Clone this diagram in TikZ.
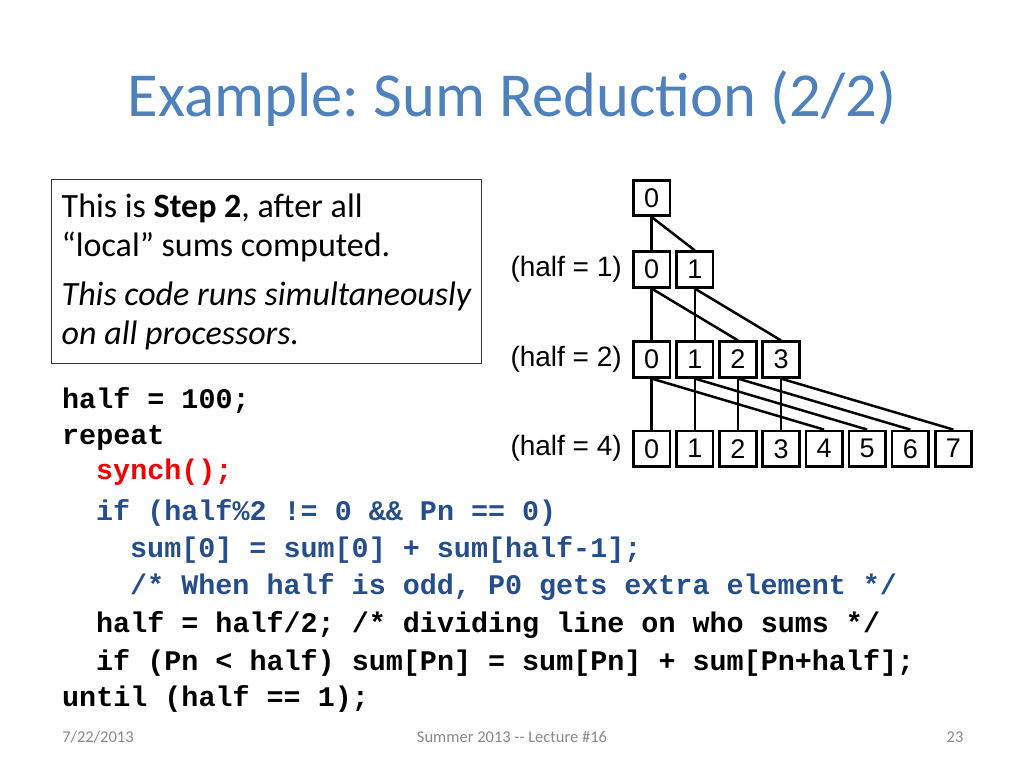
\documentclass[tikz,border=0pt]{standalone}
\usepackage{fontspec}
\setmainfont{Carlito}
\newfontfamily\helv{Liberation Sans}
\newfontfamily\cour{Liberation Mono}
\definecolor{titleblue}{RGB}{79,129,189}
\definecolor{codeblue}{RGB}{38,78,138}
\definecolor{codered}{RGB}{240,0,0}
\definecolor{footgray}{RGB}{137,137,137}
\tikzset{
  cell/.style={draw, line width=2.7pt, minimum width=36.5pt, minimum height=35.5pt, inner sep=0pt, font=\helv\fontsize{27}{30}\selectfont},
  lvl/.style={anchor=east, inner sep=0pt, font=\helv\fontsize{28}{32}\selectfont},
  link/.style={line width=2.5pt},
  codeline/.style={anchor=base west, inner sep=0pt, font=\cour\bfseries\fontsize{28.4}{32}\selectfont},
  boxtext/.style={anchor=base west, inner sep=0pt, font=\fontsize{34}{40}\selectfont},
  foot/.style={anchor=base, inner sep=0pt, text=footgray, font=\fontsize{16.5}{19}\selectfont}
}
\begin{document}
\frenchspacing
\begin{tikzpicture}[x=1pt,y=-1pt]
\useasboundingbox[fill=white] (0,0) rectangle (1024,768);
% title
\node[anchor=base, inner sep=0pt, text=titleblue, font=\fontsize{62.6}{70}\selectfont] (title) at (512,116) {Example: Sum Reduction (2/2)};
% text box
\node[draw=black!80, line width=0.9pt, minimum width=430pt, minimum height=184pt, inner sep=0pt] (tbox) at (266.7,271.3) {};
\node[boxtext] (t1) at (61.5,217) {This is \textbf{Step 2}, after all};
\node[boxtext] (t2) at (61.5,256) {“local” sums computed.};
\node[boxtext] (t3) at (61.5,305) {\itshape This code runs simultaneously};
\node[boxtext] (t4) at (61.5,344) {\itshape on all processors.};
% tree
\node[cell] (a0) at (651.7,198) {0};
\foreach \i in {0,1} { \node[cell] (b\i) at ({651.7+43.1*\i},269.5) {\i}; }
\foreach \i in {0,...,3} { \node[cell] (c\i) at ({651.7+43.1*\i},359.5) {\i}; }
\foreach \i in {0,...,7} { \node[cell] (d\i) at ({651.7+43.1*\i},448.7) {\i}; }
\node[lvl] (l1) at (622,269.5) {(half = 1)};
\node[lvl] (l2) at (622,359.5) {(half = 2)};
\node[lvl] (l4) at (622,448.7) {(half = 4)};
\draw[link] (a0.south) -- (b0.north);
\draw[link] (a0.south) -- (b1.north);
\draw[link] (b0.south) -- (c0.north);
\draw[link] (b0.south) -- (c2.north);
\draw[link] (b1.south) -- (c1.north);
\draw[link] (b1.south) -- (c3.north);
\foreach \i [evaluate=\i as \j using int(\i+4)] in {0,...,3} {
  \draw[link] (c\i.south) -- (d\i.north);
  \draw[link] (c\i.south) -- (d\j.north);
}
% code
\node[codeline] (k1) at (62,408) {half = 100;};
\node[codeline] (k2) at (62,444) {repeat};
\node[codeline, text=codered] (k3) at (96,479) {synch();};
\node[codeline, text=codeblue] (k4) at (96,520) {if (half\%2 != 0 \&\& Pn == 0)};
\node[codeline, text=codeblue] (k5) at (130,557) {sum[0] = sum[0] + sum[half-1];};
\node[codeline, text=codeblue] (k6) at (130,594) {/* When half is odd, P0 gets extra element */};
\node[codeline] (k7) at (96,632) {half = half/2; /* dividing line on who sums */};
\node[codeline] (k8) at (96,670) {if (Pn < half) sum[Pn] = sum[Pn] + sum[Pn+half];};
\node[codeline] (k9) at (62,706) {until (half == 1);};
% footer
\node[foot] (f1) at (98,742) {7/22/2013};
\node[foot] (f2) at (512,742) {Summer 2013 {-}{-} Lecture \#16};
\node[foot] (f3) at (955,742) {23};
\end{tikzpicture}
\end{document}
